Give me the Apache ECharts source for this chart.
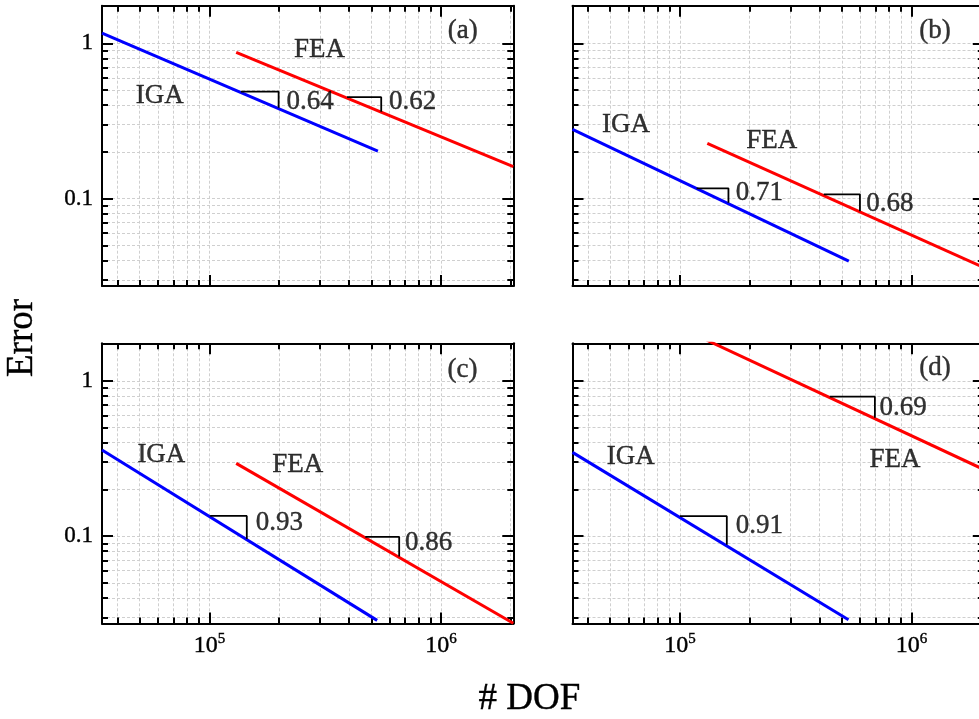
<!DOCTYPE html>
<html>
<head>
<meta charset="utf-8">
<title>Error vs DOF</title>
<script src="https://cdn.jsdelivr.net/npm/echarts@6/dist/echarts.min.js"></script>
<style>
  html, body { margin: 0; padding: 0; background: #fff; }
  #chart { width: 979px; height: 719px; }
</style>
</head>
<body>
<div id="chart"></div>
<script>
// axis ranges and ticks (shared by all four panels)
var dofRange = [34356, 2053000];
var errRange = [0.02736, 1.747];
var dofMajor = [1e5, 1e6];
var dofMinor = [4e4, 5e4, 6e4, 7e4, 8e4, 9e4, 2e5, 3e5, 4e5, 5e5, 6e5, 7e5, 8e5, 9e5, 2e6];
var errMajor = [0.1, 1];
var errMinor = [0.03, 0.04, 0.05, 0.06, 0.07, 0.08, 0.09, 0.2, 0.3, 0.4, 0.5, 0.6, 0.7, 0.8, 0.9];

// (a)
var igaA = [[34356, 1.165], [534000, 0.2025]];
var feaA = [[130500, 0.875], [2053000, 0.1604]];
var slopeIgaA = [[136700, 0.488], [199000, 0.488], [199000, 0.385]];
var slopeFeaA = [[393000, 0.45], [552000, 0.45], [552000, 0.362]];
var notesA = [['IGA', 47800, 0.458], ['FEA', 230500, 0.901], ['0.64', 214000, 0.421], ['0.62', 594000, 0.421], ['(a)', 1064000, 1.2]];

// (b)
var igaB = [[34356, 0.2794], [536300, 0.0396]];
var feaB = [[131300, 0.227], [2053000, 0.036]];
var slopeIgaB = [[118100, 0.1165], [162000, 0.1165], [162000, 0.094]];
var slopeFeaB = [[418000, 0.1066], [599000, 0.1066], [599000, 0.083]];
var notesB = [['IGA', 45800, 0.298], ['FEA', 192600, 0.235], ['0.71', 173200, 0.1087], ['0.68', 634000, 0.0923], ['(b)', 1076000, 1.2]];

// (c)
var igaC = [[34356, 0.359], [530000, 0.0287]];
var feaC = [[130500, 0.2944], [2053000, 0.0275]];
var slopeIgaC = [[100700, 0.135], [145000, 0.135], [145000, 0.096]];
var slopeFeaC = [[471000, 0.099], [660000, 0.099], [660000, 0.074]];
var notesC = [['IGA', 48600, 0.333], ['FEA', 186000, 0.287], ['0.93', 157600, 0.122], ['0.86', 696000, 0.0911], ['(c)', 1062000, 1.178]];

// (d)
var igaD = [[34356, 0.3467], [534500, 0.029]];
var feaD = [[130500, 1.83], [2053000, 0.269]];
var slopeIgaD = [[100000, 0.1346], [159400, 0.1346], [159400, 0.088]];
var slopeFeaD = [[444000, 0.792], [695000, 0.792], [695000, 0.58]];
var notesD = [['IGA', 48100, 0.3248], ['FEA', 655000, 0.309], ['0.91', 173200, 0.116], ['0.69', 724000, 0.6726], ['(d)', 1076000, 1.213]];

var panels = [
  { iga: igaA, fea: feaA, slopes: [slopeIgaA, slopeFeaA], notes: notesA },
  { iga: igaB, fea: feaB, slopes: [slopeIgaB, slopeFeaB], notes: notesB },
  { iga: igaC, fea: feaC, slopes: [slopeIgaC, slopeFeaC], notes: notesC },
  { iga: igaD, fea: feaD, slopes: [slopeIgaD, slopeFeaD], notes: notesD }
];

var layout = [
  { left: 102, top: 5.7, xLabels: false, yLabels: true },
  { left: 572.5, top: 5.7, xLabels: false, yLabels: false },
  { left: 102, top: 343.3, xLabels: true, yLabels: true },
  { left: 572.5, top: 343.3, xLabels: true, yLabels: false }
];

var FONT = 'Liberation Serif';
// slightly heavier glyphs, closer to the printed Times look
var INK = { color: '#000', textBorderColor: '#000', textBorderWidth: 0.4 };
var chart = echarts.init(document.getElementById('chart'), null, { renderer: 'canvas' });

function makeAxis(dim, gi, pos, major, showLine, showLabel) {
  var isX = dim === 'x';
  var ticks = major ? (isX ? dofMajor : errMajor) : (isX ? dofMajor.concat(dofMinor) : errMajor.concat(errMinor));
  var range = isX ? dofRange : errRange;
  var ax = {
    type: 'log',
    logBase: 10,
    gridIndex: gi,
    position: pos,
    min: range[0],
    max: range[1],
    axisLine: { show: showLine, onZero: false, lineStyle: { color: '#000', width: 2 } },
    axisTick: {
      show: true, inside: true, length: major ? 11 : 6,
      customValues: ticks,
      lineStyle: { color: '#000', width: 2 }
    },
    axisLabel: { show: false },
    splitLine: { show: false },
    axisPointer: { show: false }
  };
  // dashed grid from the full tick set, bottom / left only
  if (!major && (pos === 'bottom' || pos === 'left')) {
    ax.splitLine = { show: true, lineStyle: { color: '#cfcfcf', width: 1, type: [3, 2] } };
  }
  if (showLabel) {
    if (isX) {
      ax.axisLabel = {
        show: true, margin: 8, customValues: dofMajor,
        formatter: function (v) {
          return '{b|10}{s|' + Math.round(Math.log(v) / Math.LN10) + '}';
        },
        rich: {
          b: echarts.util.extend({ fontFamily: FONT, fontSize: 24, lineHeight: 26, verticalAlign: 'bottom' }, INK),
          s: echarts.util.extend({ fontFamily: FONT, fontSize: 15, lineHeight: 12, verticalAlign: 'top' }, INK)
        }
      };
    } else {
      ax.axisLabel = echarts.util.extend({
        show: true, margin: 9, customValues: errMajor,
        fontFamily: FONT, fontSize: 23,
        formatter: function (v) { return String(+v.toPrecision(3)); }
      }, INK);
    }
  }
  return ax;
}

var grids = [], xAxes = [], yAxes = [], series = [];

panels.forEach(function (p, i) {
  var L = layout[i];
  grids.push({
    left: L.left, top: L.top, width: 411.3, height: 280.3,
    containLabel: false, outerBoundsMode: 'none'
  });
  // bottom/top, major/minor x axes
  xAxes.push(makeAxis('x', i, 'bottom', true, true, L.xLabels));
  xAxes.push(makeAxis('x', i, 'bottom', false, false, false));
  xAxes.push(makeAxis('x', i, 'top', true, true, false));
  xAxes.push(makeAxis('x', i, 'top', false, false, false));
  // left/right, major/minor y axes
  yAxes.push(makeAxis('y', i, 'left', true, true, L.yLabels));
  yAxes.push(makeAxis('y', i, 'left', false, false, false));
  yAxes.push(makeAxis('y', i, 'right', true, true, false));
  yAxes.push(makeAxis('y', i, 'right', false, false, false));

  var xi = i * 4, yi = i * 4;
  series.push({
    type: 'line', xAxisIndex: xi, yAxisIndex: yi, data: p.iga,
    symbol: 'none', clip: true, z: 3,
    lineStyle: { color: '#0000ff', width: 3 }
  });
  series.push({
    type: 'line', xAxisIndex: xi, yAxisIndex: yi, data: p.fea,
    symbol: 'none', clip: true, z: 3,
    lineStyle: { color: '#ff0000', width: 3 }
  });
  p.slopes.forEach(function (tri) {
    series.push({
      type: 'line', xAxisIndex: xi, yAxisIndex: yi, data: tri,
      symbol: 'none', z: 4,
      lineStyle: { color: '#000', width: 1.8 }
    });
  });
  series.push({
    type: 'scatter', xAxisIndex: xi, yAxisIndex: yi, z: 5, silent: true,
    symbolSize: 1,
    itemStyle: { color: 'transparent' },
    data: p.notes.map(function (n) { return { name: n[0], value: [n[1], n[2]] }; }),
    label: echarts.util.extend({
      show: true, position: 'right', distance: 0,
      align: 'left', verticalAlign: 'middle',
      fontFamily: FONT, fontSize: 27,
      formatter: function (d) { return d.name; }
    }, INK)
  });
});

chart.setOption({
  animation: false,
  backgroundColor: '#fff',
  grid: grids,
  xAxis: xAxes,
  yAxis: yAxes,
  series: series,
  graphic: [
    {
      type: 'text', x: 22, y: 338, rotation: Math.PI / 2,
      style: { text: 'Error', fontFamily: FONT, fontSize: 37, fill: '#000',
               stroke: '#000', lineWidth: 0.4,
               align: 'center', verticalAlign: 'middle', textAlign: 'center', textVerticalAlign: 'middle' }
    },
    {
      type: 'text', x: 529.5, y: 699.7,
      style: { text: '# DOF', fontFamily: FONT, fontSize: 37, fill: '#000',
               stroke: '#000', lineWidth: 0.4,
               align: 'center', verticalAlign: 'middle', textAlign: 'center', textVerticalAlign: 'middle' }
    }
  ]
});
</script>
</body>
</html>
